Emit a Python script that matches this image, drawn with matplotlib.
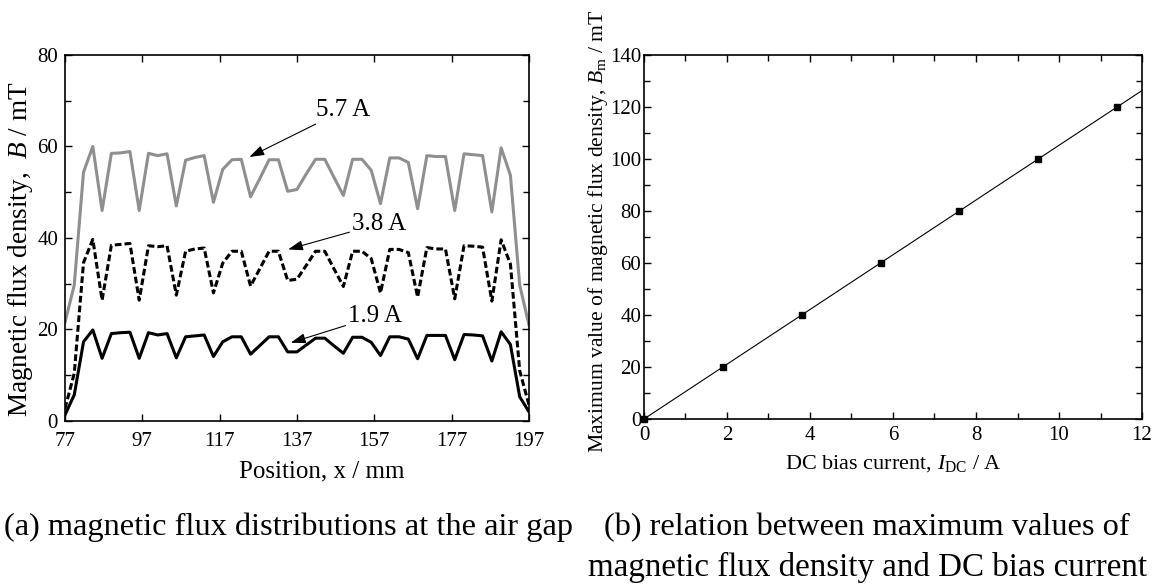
import numpy as np
import matplotlib.pyplot as plt
from matplotlib.ticker import MultipleLocator

plt.rcParams['font.family'] = 'Liberation Serif'
plt.rcParams['mathtext.fontset'] = 'custom'
plt.rcParams['mathtext.rm'] = 'Liberation Serif'
plt.rcParams['mathtext.it'] = 'Liberation Serif:italic'

# (a) flux density along the air gap, sampled every 2.4 mm
position = [77.0, 79.4, 81.8, 84.2, 86.6, 89.0, 91.4, 93.8, 96.2, 98.6,
            101.0, 103.4, 105.8, 108.2, 110.6, 113.0, 115.4, 117.8, 120.2, 122.6,
            125.0, 127.4, 129.8, 132.2, 134.6, 137.0, 139.4, 141.8, 144.2, 146.6,
            149.0, 151.4, 153.8, 156.2, 158.6, 161.0, 163.4, 165.8, 168.2, 170.6,
            173.0, 175.4, 177.8, 180.2, 182.6, 185.0, 187.4, 189.8, 192.2, 194.6,
            197.0]
b_57 = [21.5, 29.7, 54.4, 60.0, 46.0, 58.5, 58.6, 58.9, 46.0, 58.5,
        58.0, 58.4, 47.0, 57.0, 57.6, 58.0, 47.8, 55.0, 57.1, 57.2,
        49.0, 53.0, 57.1, 57.1, 50.2, 50.6, 54.0, 57.2, 57.2, 53.2,
        49.3, 57.2, 57.2, 54.8, 47.5, 57.5, 57.5, 56.5, 46.4, 58.0,
        57.8, 57.8, 46.0, 58.4, 58.2, 58.0, 45.7, 59.7, 53.7, 29.7,
        21.0]
b_38 = [2.7, 10.4, 34.6, 39.7, 26.4, 38.4, 38.6, 38.8, 26.4, 38.3,
        38.1, 38.3, 27.5, 37.1, 37.6, 37.8, 28.0, 34.5, 37.1, 37.1,
        29.5, 33.3, 37.1, 37.1, 30.7, 31.0, 34.0, 37.1, 37.1, 33.2,
        29.4, 37.1, 37.1, 35.5, 28.0, 37.5, 37.5, 36.8, 27.1, 37.9,
        37.6, 37.6, 26.7, 38.3, 38.2, 38.0, 26.2, 39.6, 34.3, 11.0,
        3.5]
b_19 = [1.3, 5.7, 17.3, 19.9, 13.7, 19.1, 19.3, 19.4, 13.7, 19.3,
        18.8, 19.1, 13.8, 18.4, 18.6, 18.8, 14.1, 17.3, 18.4, 18.4,
        14.6, 16.5, 18.4, 18.4, 15.1, 15.1, 16.6, 18.1, 18.1, 16.4,
        14.8, 18.3, 18.3, 17.2, 14.3, 18.4, 18.4, 17.9, 13.6, 18.7,
        18.7, 18.7, 13.4, 18.9, 18.8, 18.6, 13.1, 19.5, 16.7, 5.3,
        2.0]

# (b) peak flux density against DC bias current
dc_current = [0, 1.9, 3.8, 5.7, 7.6, 9.5, 11.4]
b_max = [0, 20, 40, 60, 80, 100, 120]

fig = plt.figure(figsize=(11.58, 5.86), dpi=100)
ax1 = fig.add_axes([0.0561, 0.2816, 0.4007, 0.6246])
ax2 = fig.add_axes([0.5561, 0.285, 0.4301, 0.6212])

ax1.plot(position, b_57, color='#8f8f8f', lw=2.2)
ax1.plot(position, b_38, color='black', lw=2.2, dashes=(2.2, 1.0))
ax1.plot(position, b_19, color='black', lw=2.2)

arrow = dict(arrowstyle='-|>,head_length=0.5,head_width=0.17', color='black', lw=0.8,
             shrinkA=0, shrinkB=0)
ax1.annotate('5.7 A', xy=(124.7, 57.7), xytext=(142.0, 67.9), fontsize=18,
             va='center', ha='left', arrowprops=arrow)
ax1.annotate('3.8 A', xy=(134.7, 37.5), xytext=(151.3, 43.1), fontsize=18,
             va='center', ha='left', arrowprops=arrow)
ax1.annotate('1.9 A', xy=(135.4, 17.1), xytext=(150.3, 22.9), fontsize=18,
             va='center', ha='left', arrowprops=arrow)

ax1.set_xlim(77, 197)
ax1.set_ylim(0, 80)
ax1.set_xticks([77, 97, 117, 137, 157, 177, 197])
ax1.set_yticks([0, 20, 40, 60, 80])
ax1.yaxis.set_minor_locator(MultipleLocator(10))
ax1.set_xlabel('Position, x / mm', fontsize=18)
ax1.set_ylabel(r'Magnetic flux density,  $B$ / mT', fontsize=19.5)
ax1.xaxis.set_label_coords(0.554, -0.108)
ax1.yaxis.set_label_coords(-0.065, 0.47)

ax2.plot(dc_current, b_max, 's', color='black', ms=5, clip_on=False, zorder=3)
slope = np.sum(np.multiply(dc_current, b_max)) / np.sum(np.square(dc_current))
ax2.plot([0, 12], [0, 12 * slope], color='black', lw=0.8)
ax2.set_xlim(0, 12)
ax2.set_ylim(0, 140)
ax2.xaxis.set_major_locator(MultipleLocator(2))
ax2.xaxis.set_minor_locator(MultipleLocator(1))
ax2.yaxis.set_major_locator(MultipleLocator(20))
ax2.yaxis.set_minor_locator(MultipleLocator(10))
ax2.set_xlabel(r'DC bias current, $I_{\mathrm{DC}}$ / A', fontsize=16)
ax2.set_ylabel(r'Maximum value of magnetic flux density, $B_{\mathrm{m}}$ / mT', fontsize=15.6)
ax2.xaxis.set_label_coords(0.5, -0.093)
ax2.yaxis.set_label_coords(-0.068, 0.516)

for ax in (ax1, ax2):
    for s in ax.spines.values():
        s.set_linewidth(1.2)
    ax.tick_params(which='both', direction='in', top=True, right=True,
                   labelsize=15, width=1.0)
    ax.tick_params(which='major', length=5)
    ax.tick_params(which='minor', length=4)
ax1.tick_params(axis='x', pad=8)
ax1.tick_params(axis='y', pad=5)
ax2.tick_params(axis='y', pad=2)
ax2.tick_params(axis='x', pad=5)

fig.text(0.249, 0.1, '(a) magnetic flux distributions at the air gap',
         fontsize=23.3, ha='center', va='center')
fig.text(0.522, 0.1, '(b) relation between maximum values of',
         fontsize=23.3, ha='left', va='center')
fig.text(0.508, 0.032, 'magnetic flux density and DC bias current',
         fontsize=23.8, ha='left', va='center')

fig.savefig('out.png', dpi=100)
